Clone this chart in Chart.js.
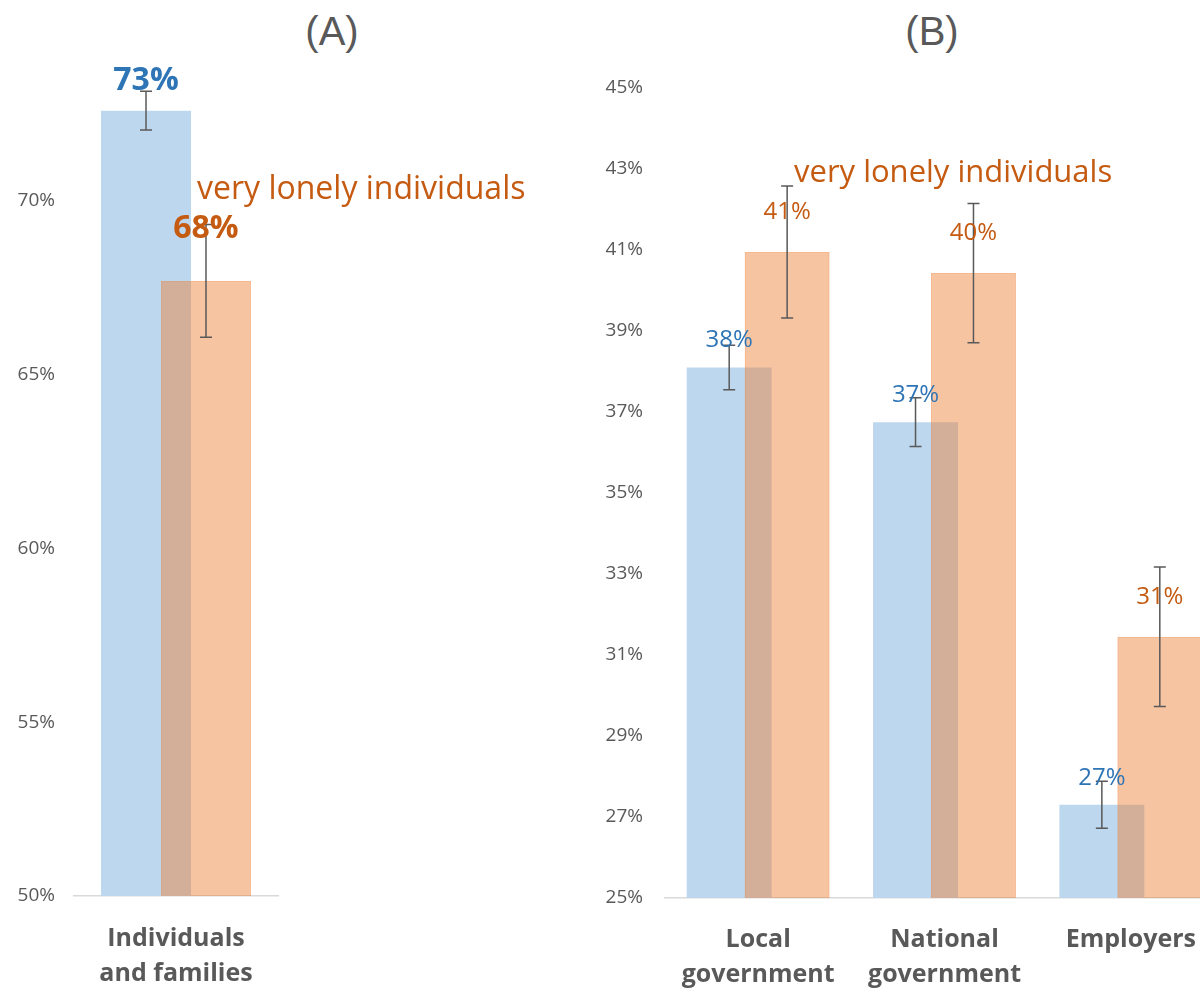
<!DOCTYPE html>
<html><head><meta charset="utf-8">
<script src="https://cdn.jsdelivr.net/npm/chart.js@4.4.1/dist/chart.umd.min.js"></script>
<style>
html,body{margin:0;padding:0;background:#fff;overflow:hidden;width:1200px;height:988px;position:relative;}
#wrapA{position:absolute;left:0;top:0;width:590px;height:988px;}
#wrapB{position:absolute;left:590px;top:0;width:660px;height:988px;}
.title{position:absolute;top:9px;font:40px "Liberation Sans",Arial,sans-serif;color:#595959;transform:translateX(-50%);white-space:nowrap;}
</style></head><body>
<div class="title" style="left:332px">(A)</div>
<div class="title" style="left:932px">(B)</div>
<div id="wrapA"><canvas id="chartA"></canvas></div>
<div id="wrapB"><canvas id="chartB"></canvas></div>
<script>
// ---- Data ----
const seriesNames = ['all individuals', 'very lonely individuals'];

// Panel (A)
const categoriesA = [['Individuals', 'and families']];
const allValuesA = [72.6];
const lonelyValuesA = [67.7];
const allErrA = [0.56];
const lonelyErrA = [1.62];
const yTicksA = [50, 55, 60, 65, 70];

// Panel (B)
const categoriesB = [['Local', 'government'], ['National', 'government'], ['Employers']];
const allValuesB = [38.1, 36.75, 27.3];
const lonelyValuesB = [40.95, 40.43, 31.45];
const allErrB = [0.55, 0.6, 0.58];
const lonelyErrB = [1.63, 1.72, 1.72];
const yTicksB = [25, 27, 29, 31, 33, 35, 37, 39, 41, 43, 45];

// ---- Styles ----
const BLUE_FILL = '#BDD7EE';
const ORANGE_FILL = 'rgba(237,125,49,0.45)';
const ORANGE_BORDER = 'rgba(237,125,49,0.55)';
const BLUE_TEXT = '#2E75B6';
const ORANGE_TEXT = '#C55A11';
const GREY = '#595959';

Chart.defaults.font.family = '"Open Sans", sans-serif';

const overlayPlugin = {
  id: 'overlay',
  beforeDatasetDraw(chart, args) {
    if (args.index === 1) return false; // draw orange later, on top
  },
  afterDatasetsDraw(chart) {
    const o = chart.options.plugins.overlay;
    const ctx = chart.ctx;
    const yScale = chart.scales.y;
    const area = chart.chartArea;
    // orange series on top of the blue one (clipped to the plot area)
    ctx.save();
    ctx.beginPath();
    ctx.rect(area.left, area.top, area.right - area.left, area.bottom - area.top);
    ctx.clip();
    chart.getDatasetMeta(1).controller.draw();
    ctx.restore();
    // error bars
    ctx.save();
    ctx.strokeStyle = GREY;
    ctx.lineWidth = 1.5;
    [0, 1].forEach(di => {
      const meta = chart.getDatasetMeta(di);
      const vals = chart.data.datasets[di].data;
      const errs = o.errors[di];
      meta.data.forEach((bar, j) => {
        const x = bar.x;
        const yT = yScale.getPixelForValue(vals[j] + errs[j]);
        const yB = yScale.getPixelForValue(vals[j] - errs[j]);
        ctx.beginPath();
        ctx.moveTo(x, yT); ctx.lineTo(x, yB);
        ctx.moveTo(x - 6, yT); ctx.lineTo(x + 6, yT);
        ctx.moveTo(x - 6, yB); ctx.lineTo(x + 6, yB);
        ctx.stroke();
      });
    });
    // value labels
    ctx.textAlign = 'center';
    ctx.textBaseline = 'alphabetic';
    [0, 1].forEach(di => {
      const meta = chart.getDatasetMeta(di);
      const vals = chart.data.datasets[di].data;
      ctx.fillStyle = di === 0 ? BLUE_TEXT : ORANGE_TEXT;
      ctx.font = o.labelFont;
      meta.data.forEach((bar, j) => {
        ctx.fillText(Math.round(vals[j]) + '%', bar.x, bar.y - o.labelOffset[di]);
      });
    });
    // series annotation
    ctx.textAlign = 'left';
    ctx.fillStyle = ORANGE_TEXT;
    ctx.font = o.noteFont;
    ctx.fillText(chart.data.datasets[1].label, o.note.x, o.note.y);
    ctx.restore();
  }
};

function makeChart(id, cats, allV, lonV, allE, lonE, ticks, cfg) {
  return new Chart(document.getElementById(id), {
    type: 'bar',
    data: {
      labels: cats,
      datasets: [
        { label: seriesNames[0], data: allV, backgroundColor: BLUE_FILL, borderWidth: 0 },
        { label: seriesNames[1], data: lonV, backgroundColor: ORANGE_FILL, borderColor: ORANGE_BORDER, borderWidth: 1.5 }
      ]
    },
    options: {
      responsive: true,
      maintainAspectRatio: false,
      animation: false,
      events: [],
      layout: { padding: { top: cfg.top, right: cfg.right, left: 0, bottom: 0 } },
      datasets: { bar: { categoryPercentage: cfg.catPct, barPercentage: cfg.barPct } },
      scales: {
        x: {
          grid: { display: false, drawTicks: false },
          border: { display: true, color: '#D9D9D9', width: 1.5 },
          ticks: { color: GREY, font: { size: 25, weight: 'bold', lineHeight: 1.4 }, padding: cfg.xPad, maxRotation: 0 },
          afterFit: s => { s.height = cfg.xHeight; }
        },
        y: {
          min: cfg.min, max: cfg.max,
          grid: { display: false, drawTicks: false },
          border: { display: false },
          ticks: { color: GREY, font: { size: 19 }, padding: cfg.yPad, callback: v => v + '%' },
          afterBuildTicks: s => { s.ticks = ticks.map(v => ({ value: v })); },
          afterFit: s => { s.width = cfg.yWidth; }
        }
      },
      plugins: {
        legend: { display: false },
        tooltip: { enabled: false },
        overlay: {
          errors: [allE, lonE],
          labelFont: cfg.labelFont,
          labelOffset: cfg.labelOffset,
          noteFont: cfg.noteFont,
          note: cfg.note
        }
      }
    },
    plugins: [overlayPlugin]
  });
}

makeChart('chartA', categoriesA, allValuesA, lonelyValuesA, allErrA, lonelyErrA, yTicksA, {
  top: 50, right: 312, yWidth: 74, yPad: 19, xHeight: 92, xPad: 25,
  min: 50, max: 74.345, catPct: 0.588, barPct: 1.5,
  labelFont: 'bold 32px "Open Sans", sans-serif', labelOffset: [21, 43],
  noteFont: '32px "Open Sans", sans-serif',
  note: { x: 197, y: 199 }
});

makeChart('chartB', categoriesB, allValuesB, lonelyValuesB, allErrB, lonelyErrB, yTicksB, {
  top: 88, right: 26, yWidth: 75, yPad: 22, xHeight: 90, xPad: 24,
  min: 25, max: 45, catPct: 0.622, barPct: 1.466,
  labelFont: '24px "Open Sans", sans-serif', labelOffset: [20, 33],
  noteFont: '31px "Open Sans", sans-serif',
  note: { x: 204, y: 182 }
});
</script>
</body></html>
